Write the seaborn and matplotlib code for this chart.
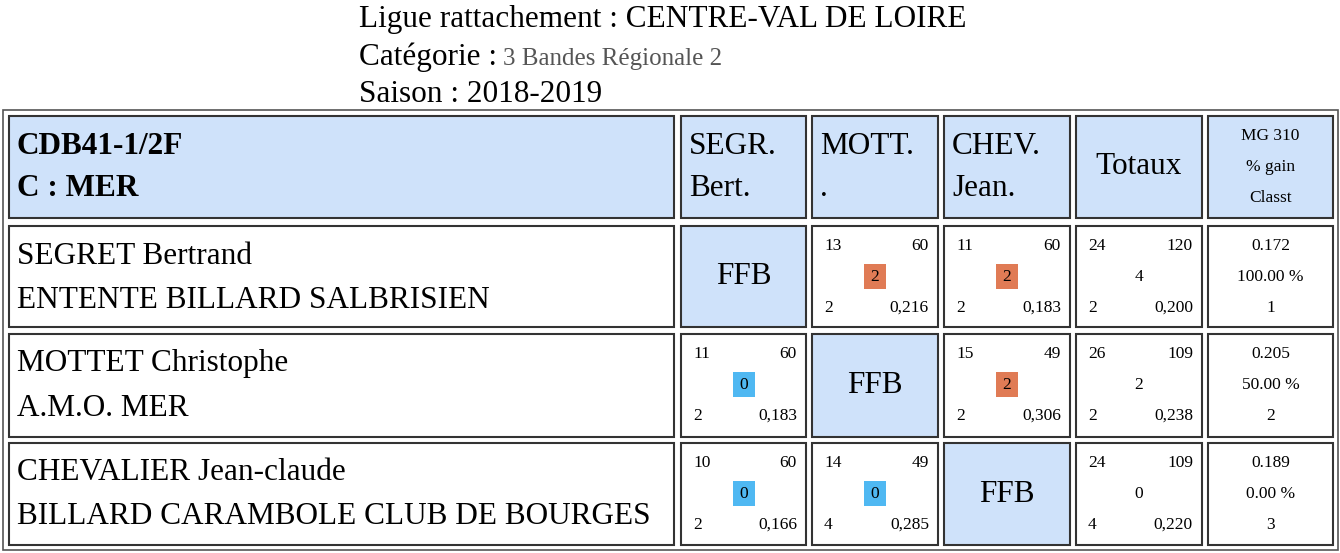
import matplotlib.pyplot as plt
import seaborn as sns
from matplotlib.patches import Rectangle

sns.set_theme(style="white")

league = "Ligue rattachement : CENTRE-VAL DE LOIRE"
category = "3 Bandes Régionale 2"
season = "Saison : 2018-2019"
group_title = ["CDB41-1/2F", "C : MER"]
col_heads = [["SEGR.", "Bert."], ["MOTT.", "."], ["CHEV.", "Jean."]]
players = ["SEGRET Bertrand", "MOTTET Christophe", "CHEVALIER Jean-claude"]
clubs = ["ENTENTE BILLARD SALBRISIEN", "A.M.O. MER", "BILLARD CARAMBOLE CLUB DE BOURGES"]
# per match: points, reprises, match points, innings?, average  (None = self)
matches = [
    [None, (13, 60, 2, 2, "0,216"), (11, 60, 2, 2, "0,183")],
    [(11, 60, 0, 2, "0,183"), None, (15, 49, 2, 2, "0,306")],
    [(10, 60, 0, 2, "0,166"), (14, 49, 0, 4, "0,285"), None],
]
totals = [(24, 120, 4, 2, "0,200"), (26, 109, 2, 2, "0,238"), (24, 109, 0, 4, "0,220")]
mg = ["0.172", "0.205", "0.189"]
gain = ["100.00 %", "50.00 %", "0.00 %"]
rank = ["1", "2", "3"]

HEAD = "#cfe2fa"
WIN = "#e07b55"
LOSS = "#4fb8f2"
plt.rcParams["font.family"] = "Liberation Serif"
plt.rcParams["text.color"] = "black"

BIG = 22.5
SM = 12.5

fig = plt.figure(figsize=(13.4, 5.53), dpi=100)
ax = fig.add_axes([0, 0, 1, 1])
ax.set_xlim(0, 1340)
ax.set_ylim(553, 0)
ax.axis("off")

ax.text(359, 20, league, fontsize=BIG, va="center")
ax.text(359, 57, "Catégorie : ", fontsize=BIG, va="center")
ax.text(503, 59, category, fontsize=18, va="center", color="#555555")
ax.text(359, 94, season, fontsize=BIG, va="center")

ax.add_patch(Rectangle((3, 110), 1335, 440, fill=False, ec="#555555", lw=1.2))
cols = [(9, 674), (681, 806), (812, 938), (944, 1070), (1076, 1202), (1208, 1333)]
rows = [(116, 218), (226, 327), (334, 437), (443, 545)]


def cell(c, r, fill="white"):
    x0, x1 = cols[c]
    y0, y1 = rows[r]
    ax.add_patch(Rectangle((x0, y0), x1 - x0, y1 - y0, fc=fill, ec="#333333", lw=1.5))
    return x0, x1, y0, y1


def small(c, r, vals, box_color=None):
    x0, x1, y0, y1 = cell(c, r)
    xm = (x0 + x1) / 2
    ax.text(x0 + 12, y0 + 20, str(vals[0]), fontsize=SM, va="center")
    ax.text(x1 - 9, y0 + 20, str(vals[1]), fontsize=SM, va="center", ha="right")
    if box_color:
        ax.add_patch(Rectangle((xm - 11, y0 + 38), 22, 25, fc=box_color, ec="none"))
    ax.text(xm, y0 + 51, str(vals[2]), fontsize=SM, va="center", ha="center")
    ax.text(x0 + 12, y0 + 82, str(vals[3]), fontsize=SM, va="center")
    ax.text(x1 - 9, y0 + 82, vals[4], fontsize=SM, va="center", ha="right")


# header row
x0, x1, y0, y1 = cell(0, 0, HEAD)
ax.text(x0 + 8, y0 + 30, group_title[0], fontsize=BIG, weight="bold", va="center")
ax.text(x0 + 8, y0 + 73, group_title[1], fontsize=BIG, weight="bold", va="center")
for i, h in enumerate(col_heads):
    x0, x1, y0, y1 = cell(i + 1, 0, HEAD)
    ax.text(x0 + 8, y0 + 30, h[0], fontsize=BIG, va="center")
    ax.text(x0 + 8, y0 + 73, h[1], fontsize=BIG, va="center")
x0, x1, y0, y1 = cell(4, 0, HEAD)
ax.text((x0 + x1) / 2, (y0 + y1) / 2, "Totaux", fontsize=BIG, va="center", ha="center")
x0, x1, y0, y1 = cell(5, 0, HEAD)
for k, t in enumerate(["MG 310", "% gain", "Classt"]):
    ax.text((x0 + x1) / 2, y0 + 20 + k * 31, t, fontsize=SM, va="center", ha="center")

for r in range(3):
    x0, x1, y0, y1 = cell(0, r + 1)
    ax.text(x0 + 8, y0 + 30, players[r], fontsize=BIG, va="center")
    ax.text(x0 + 8, y0 + 74, clubs[r], fontsize=BIG, va="center")
    for c in range(3):
        m = matches[r][c]
        if m is None:
            x0, x1, y0, y1 = cell(c + 1, r + 1, HEAD)
            ax.text((x0 + x1) / 2, (y0 + y1) / 2, "FFB", fontsize=BIG, va="center", ha="center")
        else:
            small(c + 1, r + 1, m, WIN if m[2] == 2 else LOSS)
    small(4, r + 1, totals[r])
    x0, x1, y0, y1 = cell(5, r + 1)
    for k, t in enumerate([mg[r], gain[r], rank[r]]):
        ax.text((x0 + x1) / 2, y0 + 20 + k * 31, t, fontsize=SM, va="center", ha="center")

fig.savefig("out.png", dpi=100)
